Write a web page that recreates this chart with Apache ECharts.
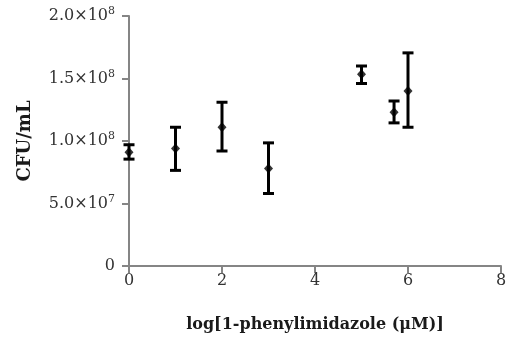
<!DOCTYPE html>
<html>
<head>
<meta charset="utf-8">
<script src="https://cdn.jsdelivr.net/npm/echarts@6/dist/echarts.min.js"></script>
<style>
  html, body { margin: 0; padding: 0; background: #fff; }
  #chart { width: 510px; height: 342px; }
</style>
</head>
<body>
<div id="chart"></div>
<script>
// log concentration of 1-phenylimidazole
const concLog = [0, 1, 2, 3, 5, 5.7, 6];
// CFU/mL mean and error bar ends
const cfuMean = [9.1e7, 9.4e7, 1.11e8, 7.8e7, 1.535e8, 1.23e8, 1.40e8];
const cfuHigh = [9.7e7, 1.11e8, 1.31e8, 9.85e7, 1.60e8, 1.32e8, 1.705e8];
const cfuLow = [8.55e7, 7.65e7, 9.2e7, 5.8e7, 1.46e8, 1.145e8, 1.11e8];
// y tick labels, '^' marks the exponent
const yTickLabels = ['0', '5.0×10^7', '1.0×10^8', '1.5×10^8', '2.0×10^8'];

const FONT = 'DejaVu Serif';
const chart = echarts.init(document.getElementById('chart'), null, {renderer: 'canvas'});

const meanData = concLog.map((x, i) => [x, cfuMean[i]]);
const barData = concLog.map((x, i) => [x, cfuLow[i], cfuHigh[i]]);

const option = {
  backgroundColor: '#fff',
  animation: false,
  grid: {left: 129, right: 9, top: 16, bottom: 76, outerBoundsMode: 'none'},
  xAxis: {
    type: 'value',
    min: 0,
    max: 8,
    interval: 2,
    name: 'log[1-phenylimidazole (μM)]',
    nameLocation: 'middle',
    nameGap: 51,
    nameTextStyle: {fontFamily: FONT, fontWeight: 'bold', fontSize: 16, color: '#1a1a1a'},
    axisLine: {onZero: false, lineStyle: {color: '#858585', width: 2}},
    axisTick: {length: 7, lineStyle: {color: '#858585', width: 2}},
    axisLabel: {fontFamily: FONT, fontSize: 16, color: '#333', margin: 7},
    splitLine: {show: false}
  },
  yAxis: {
    type: 'value',
    min: 0,
    max: 2e8,
    interval: 5e7,
    name: 'CFU/mL',
    nameLocation: 'middle',
    nameGap: 95,
    nameTextStyle: {fontFamily: FONT, fontWeight: 'bold', fontSize: 18, color: '#1a1a1a'},
    axisLine: {show: true, onZero: false, lineStyle: {color: '#858585', width: 2}},
    axisTick: {show: true, length: 7, lineStyle: {color: '#858585', width: 2}},
    axisLabel: {
      margin: 14,
      formatter: (v, i) => {
        const parts = yTickLabels[i].split('^');
        return parts.length > 1 ? '{b|' + parts[0] + '}{s|' + parts[1] + '}' : '{b|' + parts[0] + '}';
      },
      rich: {
        b: {fontFamily: FONT, fontSize: 16, color: '#333', lineHeight: 20},
        s: {fontFamily: FONT, fontSize: 11, color: '#333', lineHeight: 11, verticalAlign: 'top'}
      }
    },
    splitLine: {show: false}
  },
  series: [
    {
      type: 'custom',
      data: barData,
      renderItem: (params, api) => {
        const top = api.coord([api.value(0), api.value(2)]);
        const bot = api.coord([api.value(0), api.value(1)]);
        const hw = 5.5;
        const style = {stroke: '#000', lineWidth: 3};
        return {
          type: 'group',
          children: [
            {type: 'line', shape: {x1: top[0], y1: top[1], x2: bot[0], y2: bot[1]}, style},
            {type: 'line', shape: {x1: top[0] - hw, y1: top[1], x2: top[0] + hw, y2: top[1]}, style},
            {type: 'line', shape: {x1: bot[0] - hw, y1: bot[1], x2: bot[0] + hw, y2: bot[1]}, style}
          ]
        };
      },
      z: 2
    },
    {
      type: 'scatter',
      data: meanData,
      symbol: 'diamond',
      symbolSize: [9, 10],
      itemStyle: {color: '#000'},
      z: 3
    }
  ]
};
chart.setOption(option);
</script>
</body>
</html>
